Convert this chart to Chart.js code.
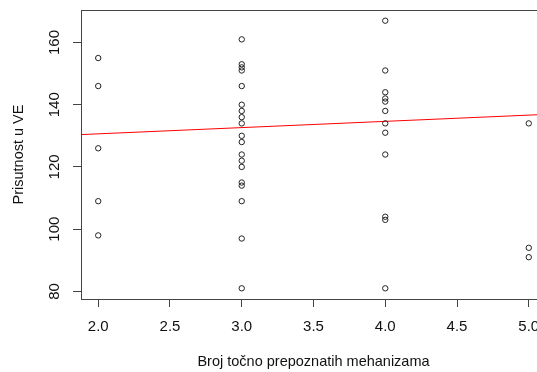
<!DOCTYPE html>
<html>
<head>
<meta charset="utf-8">
<script src="https://cdn.jsdelivr.net/npm/chart.js@4"></script>
<style>
  html, body { margin: 0; padding: 0; background: #fff; overflow: hidden; }
  #wrap { width: 560px; height: 372px; }
</style>
</head>
<body>
<div id="wrap"><canvas id="grafico"></canvas></div>
<script>
// broj mehanizama (x) i prisutnost u VE (y) po skupinama
const mehanizmi = [2, 3, 4, 5];
const prisutnost2 = [155, 146, 126, 109, 98];
const prisutnost3 = [161, 153, 152, 151, 146, 140, 138, 136, 134, 130, 128, 124, 122, 120, 115, 114, 109, 97, 81];
const prisutnost4 = [167, 151, 144, 142, 141, 138, 134, 131, 124, 104, 103, 81];
const prisutnost5 = [134, 94, 91];

// regresijski pravac (krajnje tocke)
const pravacX = [1.88, 5.12];
const pravacY = [130.4, 136.9];

const xTicks = [2.0, 2.5, 3.0, 3.5, 4.0, 4.5, 5.0];
const yTicks = [80, 100, 120, 140, 160];

const skupine = [prisutnost2, prisutnost3, prisutnost4, prisutnost5];
const tocke = [];
skupine.forEach((arr, i) => {
  arr.forEach(v => tocke.push({ x: mehanizmi[i], y: v }));
});
const pravac = pravacX.map((x, i) => ({ x: x, y: pravacY[i] }));

const font = { family: "'Liberation Sans', Arial, sans-serif", size: 15 };
const fontNaslov = { family: "'Liberation Sans', Arial, sans-serif", size: 14.5 };
const boja = "#444";

const okvir = {
  id: "okvir",
  afterDraw(chart) {
    const { ctx, chartArea: a } = chart;
    ctx.save();
    ctx.strokeStyle = boja;
    ctx.lineWidth = 1;
    ctx.strokeRect(a.left + 0.5, a.top + 0.5, a.right - a.left, a.bottom - a.top);
    ctx.restore();
  }
};

const ctx = document.getElementById("grafico").getContext("2d");
new Chart(ctx, {
  type: "scatter",
  data: {
    datasets: [
      {
        data: tocke,
        pointStyle: "circle",
        pointRadius: 2.7,
        pointBorderWidth: 1,
        pointBorderColor: "#222",
        pointBackgroundColor: "rgba(0,0,0,0)",
        pointHoverRadius: 2.7
      },
      {
        type: "line",
        data: pravac,
        borderColor: "red",
        borderWidth: 1,
        pointRadius: 0,
        fill: false
      }
    ]
  },
  options: {
    responsive: true,
    maintainAspectRatio: false,
    animation: false,
    layout: { padding: { top: 10, right: 14, bottom: 0, left: 0 } },
    plugins: { legend: { display: false }, tooltip: { enabled: false } },
    scales: {
      x: {
        type: "linear",
        min: 1.88,
        max: 5.12,
        afterBuildTicks: s => { s.ticks = xTicks.map(v => ({ value: v })); },
        afterFit: s => { s.height = 73; s.paddingLeft = 0; s.paddingRight = 0; },
        ticks: {
          font: font,
          color: "#111",
          padding: 11,
          maxRotation: 0,
          callback: v => Number(v).toFixed(1)
        },
        grid: { drawOnChartArea: false, drawTicks: true, tickLength: 8, color: boja },
        border: { display: true, color: boja },
        title: {
          display: true,
          text: "Broj točno prepoznatih mehanizama",
          font: fontNaslov,
          color: "#111",
          padding: { top: 0, bottom: 1 }
        }
      },
      y: {
        type: "linear",
        min: 77.56,
        max: 170.44,
        afterBuildTicks: s => { s.ticks = yTicks.map(v => ({ value: v })); },
        afterFit: s => { s.width = 81; s.paddingTop = 0; s.paddingBottom = 0; },
        ticks: {
          font: font,
          color: "#111",
          padding: 6,
          minRotation: 90,
          maxRotation: 90,
          crossAlign: "center"
        },
        grid: { drawOnChartArea: false, drawTicks: true, tickLength: 8, color: boja },
        border: { display: true, color: boja },
        title: {
          display: true,
          text: "Prisutnost u VE",
          font: fontNaslov,
          color: "#111",
          padding: { top: 10, bottom: 0 }
        }
      }
    }
  },
  plugins: [okvir]
});
</script>
</body>
</html>
